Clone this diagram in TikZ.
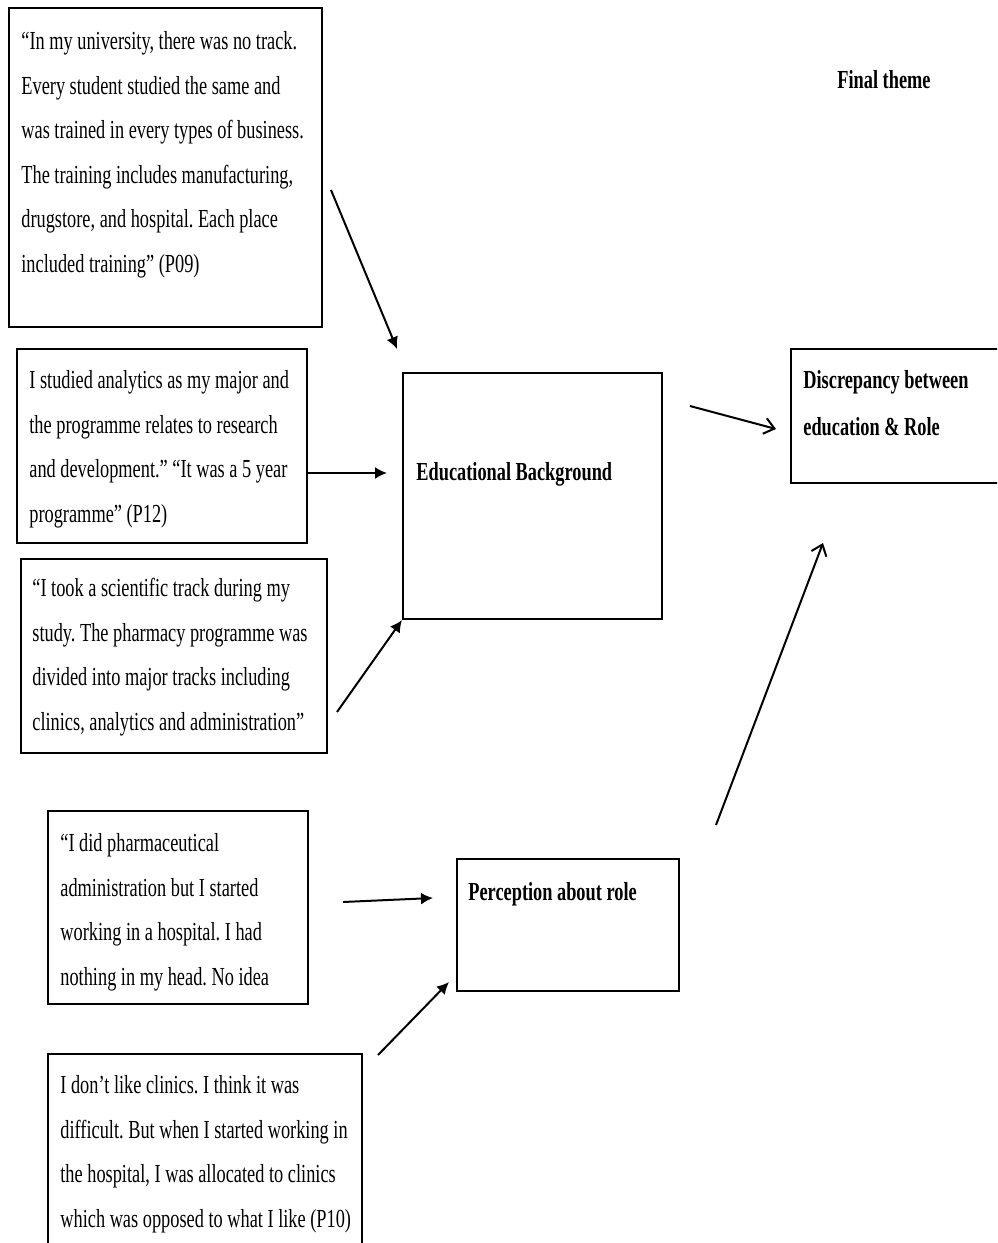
\documentclass[tikz,border=0pt]{standalone}
\usepackage{fontspec}
\setmainfont{Liberation Serif}[FakeStretch=0.705]
\usetikzlibrary{arrows.meta}
\frenchspacing

\tikzset{
  quote/.style={align=left, anchor=base west, inner sep=0pt, font=\fontsize{13}{22.25}\selectfont},
  theme/.style={align=left, anchor=base west, inner sep=0pt, font=\fontsize{13}{23.5}\selectfont\bfseries},
  box/.style={shape=rectangle, draw, line width=1pt, inner sep=0pt},
  solidarr/.style={line width=1pt, -{Latex[length=6pt,width=6pt]}},
  openarr/.style={line width=1pt, -{Straight Barb[length=5pt,width=8pt]}},
}

\begin{document}
\begin{tikzpicture}[x=0.5pt,y=-0.5pt]
    \useasboundingbox (0,0) rectangle (997,1243);
    \clip (0,0) rectangle (997,1243);

    % quote boxes
    \node[box, minimum width=156.5pt, minimum height=159.5pt] (b09) at (165.5,167.5) {};
    \node[box, minimum width=145pt,   minimum height=97pt]    (b12) at (162,446) {};
    \node[box, minimum width=153pt,   minimum height=97pt]    (bsci) at (174,656) {};
    \node[box, minimum width=130pt,   minimum height=96.5pt]  (badm) at (178,907.5) {};
    \node[box, minimum width=157pt,   minimum height=103pt]   (b10) at (205,1157) {};

    % anchored at the baseline of the last line
    \node[quote] (t09) at (21,272) {“In my university, there was no track.\\Every student studied the same and\\was trained in every types of business.\\The training includes manufacturing,\\drugstore, and hospital. Each place\\included training” (P09)};
    \node[quote] (t12) at (29,522) {I studied analytics as my major and\\the programme relates to research\\and development.” “It was a 5 year\\programme” (P12)};
    \node[quote] (tsci) at (32,730) {“I took a scientific track during my\\study. The pharmacy programme was\\divided into major tracks including\\clinics, analytics and administration”};
    \node[quote] (tadm) at (60,985) {“I did pharmaceutical\\administration but I started\\working in a hospital. I had\\nothing in my head. No idea};
    \node[quote] (t10) at (60,1227) {I don’t like clinics. I think it was\\difficult. But when I started working in\\the hospital, I was allocated to clinics\\which was opposed to what I like (P10)};

    % themes
    \node[box, minimum width=129.5pt, minimum height=123pt] (edu)  at (532.5,496) {};
    \node[box, minimum width=111pt,   minimum height=66pt]  (role) at (568,925) {};
    \node[box, minimum width=106pt,   minimum height=67pt]  (disc) at (897,416) {};

    \node[theme] (tedu)  at (416,480) {Educational Background};
    \node[theme] (trole) at (468,900) {Perception about role};
    \node[theme] (tdisc) at (803,435) {Discrepancy between\\education \& Role};
    \node[theme] (final) at (837,88) {Final theme};

    % arrow ends
    \coordinate (a09s) at (331,190);  \coordinate (a09e) at (397,349);
    \coordinate (a12s) at (307,473);  \coordinate (a12e) at (387,473);
    \coordinate (ascs) at (337,712);
    \coordinate (aads) at (343,902);  \coordinate (aade) at (433,898);
    \coordinate (a10s) at (378,1055); \coordinate (a10e) at (449,982);
    \coordinate (aeds) at (690,406);  \coordinate (aede) at (776,429);
    \coordinate (arls) at (716,825);  \coordinate (arle) at (823,543);

    \draw[solidarr] (a09s) -- (a09e);
    \draw[solidarr] (a12s) -- (a12e);
    \draw[solidarr] (ascs) -- (edu.south west);
    \draw[solidarr] (aads) -- (aade);
    \draw[solidarr] (a10s) -- (a10e);
    \draw[openarr] (aeds) -- (aede);
    \draw[openarr] (arls) -- (arle);
\end{tikzpicture}
\end{document}
